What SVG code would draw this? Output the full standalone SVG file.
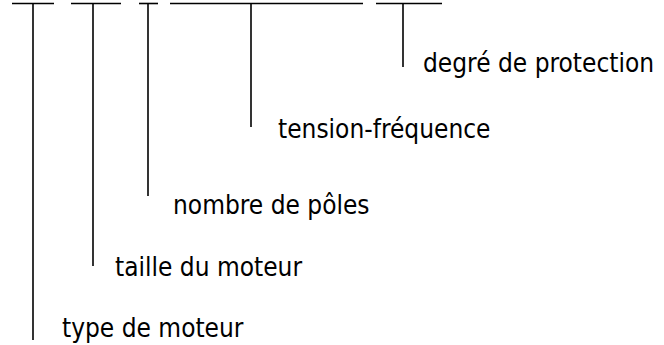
<svg xmlns="http://www.w3.org/2000/svg" width="664" height="345" viewBox="0 0 664 345">
  <style>
    .bar { stroke: #000; stroke-width: 1.6; fill: none; }
    .lbl { font-family: "DejaVu Sans Condensed", "DejaVu Sans", sans-serif; font-stretch: condensed; font-size: 26px; fill: #000; }
  </style>
  <rect width="664" height="345" fill="#fff"/>
  <!-- code segments along the top, each with its leader line down to a label -->
  <g id="connectors">
    <line class="bar" x1="12" y1="3.5" x2="54" y2="3.5"/>
    <line class="bar" x1="33" y1="3.5" x2="33" y2="340"/>
    <line class="bar" x1="71" y1="3.5" x2="121" y2="3.5"/>
    <line class="bar" x1="93" y1="3.5" x2="93" y2="266"/>
    <line class="bar" x1="139" y1="3.5" x2="158" y2="3.5"/>
    <line class="bar" x1="148" y1="3.5" x2="148" y2="196"/>
    <line class="bar" x1="170" y1="3.5" x2="363" y2="3.5"/>
    <line class="bar" x1="251" y1="3.5" x2="251" y2="127"/>
    <line class="bar" x1="376" y1="3.5" x2="442" y2="3.5"/>
    <line class="bar" x1="403" y1="3.5" x2="403" y2="67"/>
  </g>
  <g id="degre"><text class="lbl" x="423" y="72">degré de protection</text></g>
  <g id="tension"><text class="lbl" x="278" y="138">tension-fréquence</text></g>
  <g id="poles"><text class="lbl" x="173" y="214">nombre de pôles</text></g>
  <g id="taille"><text class="lbl" x="115" y="276">taille du moteur</text></g>
  <g id="type"><text class="lbl" x="62" y="337">type de moteur</text></g>
</svg>
